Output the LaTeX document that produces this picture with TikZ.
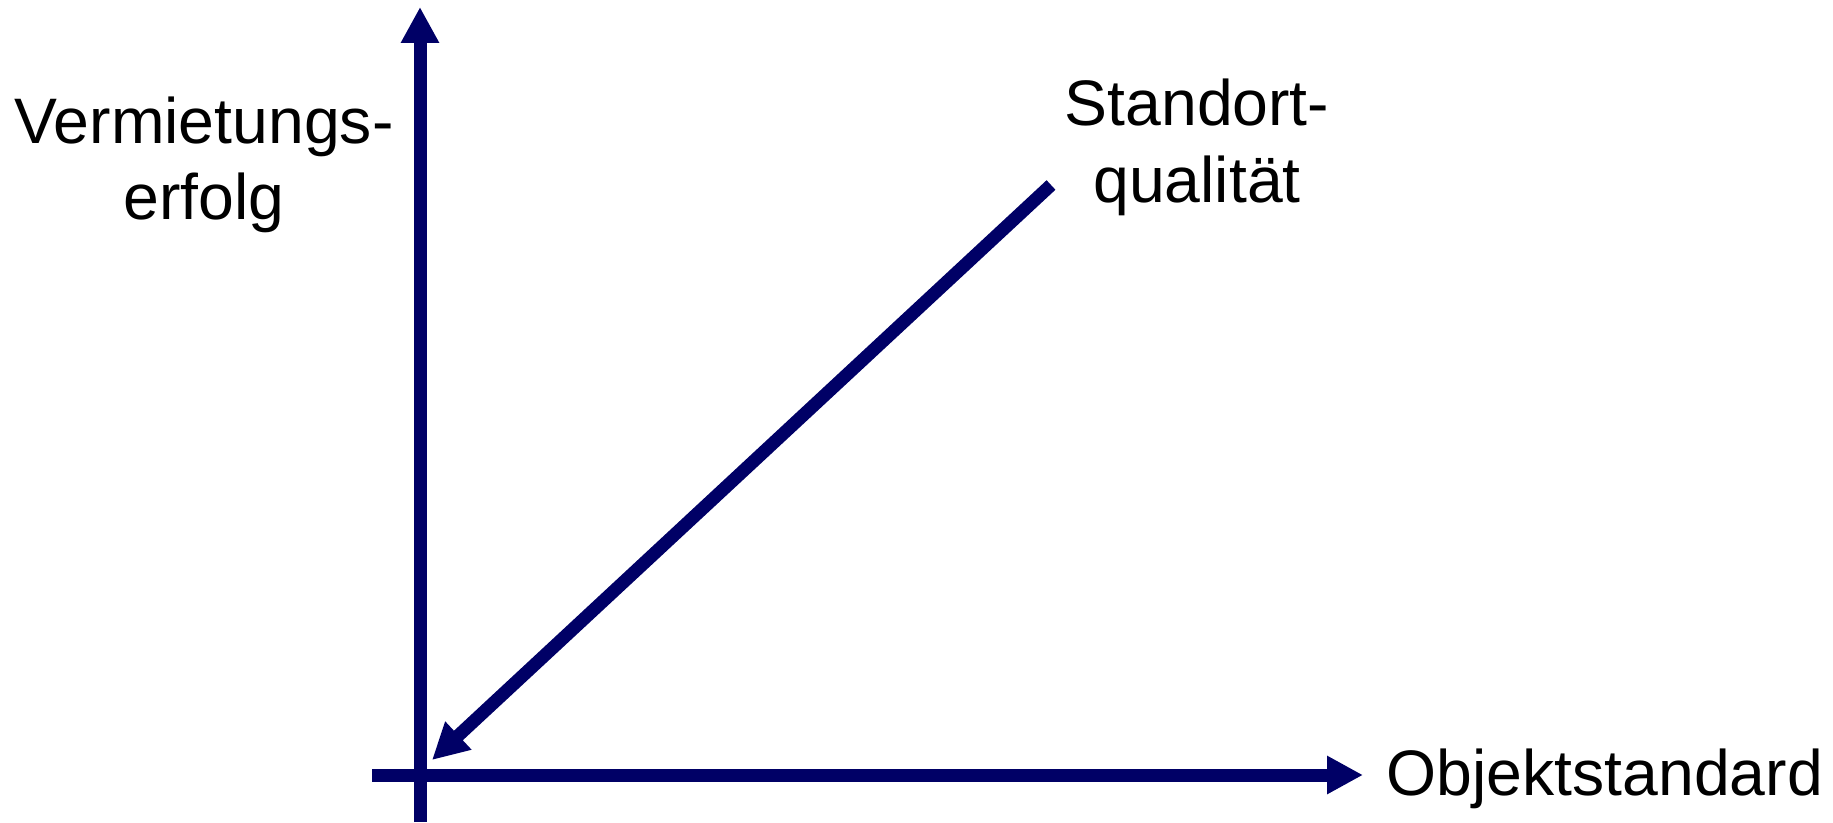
\documentclass[tikz,border=0pt]{standalone}
\usepackage{fontspec}
\setmainfont{Liberation Sans}
\usetikzlibrary{arrows.meta,positioning,calc}

\definecolor{axisblue}{RGB}{0,0,102}

\tikzset{
  axisline/.style={line width=0.13cm,draw=axisblue,-{Triangle[length=0.36cm,width=0.36cm]}},
  axislabel/.style={inner sep=0,align=center,font=\fontsize{18.3pt}{21.9pt}\selectfont}
}

\begin{document}
\begin{tikzpicture}
\useasboundingbox (0,0) rectangle (18.33,8.22);

\coordinate (ybot) at (4.20, 0);
\coordinate (ytop) at (4.20, 8.15);
\coordinate (xleft) at (3.72, 0.47);
\coordinate (xright) at (13.63, 0.47);
\coordinate (dstart) at (10.51, 6.37);
\coordinate (dend) at (4.32, 0.62);

\draw[axisline] (ybot) -- (ytop);
\draw[axisline] (xleft) -- (xright);
\draw[axisline] (dstart) -- (dend);

% base anchor sits on the last line
\node[axislabel,anchor=base] (vermietung) at (2.04, 6.02) {Vermietungs-\\erfolg};
\node[axislabel,anchor=base] (standort) at (11.97, 6.20) {Standort-\\qualität};
\node[axislabel,anchor=base west] (objekt) at (13.86, 0.27) {Objektstandard};

\end{tikzpicture}
\end{document}
